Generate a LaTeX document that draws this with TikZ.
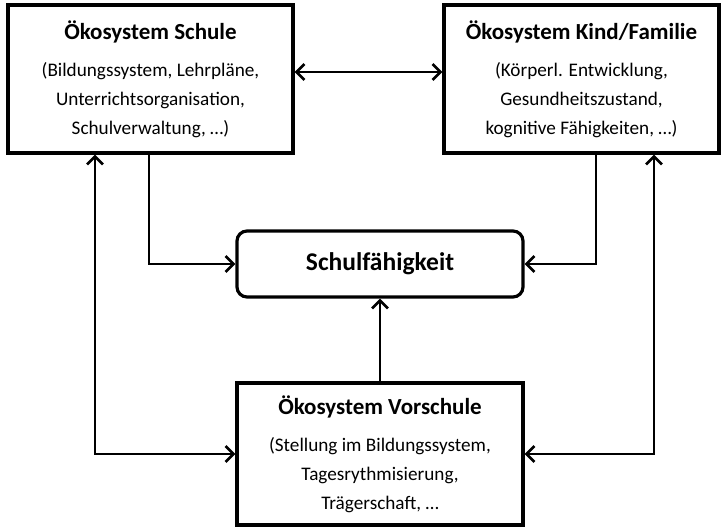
\documentclass[tikz,border=0pt]{standalone}
\usepackage{fontspec}
\setmainfont{Carlito}
\usetikzlibrary{arrows.meta}
\newcommand{\ttl}[1]{{\fontsize{23}{29}\selectfont\bfseries #1}}
\begin{document}
\begin{tikzpicture}[x=1pt,y=-1pt,
  box/.style={draw,line width=3.2pt,rectangle,align=center,inner sep=0pt,
    font=\fontsize{19.2}{29}\selectfont},
  conn/.style={line width=2.6pt,-{Straight Barb[length=8pt,width=16pt,line width=2.6pt]}},
  dconn/.style={line width=2.6pt,{Straight Barb[length=8pt,width=16pt,line width=2.6pt]}-{Straight Barb[length=8pt,width=16pt,line width=2.6pt]}}]
\useasboundingbox (0,0) rectangle (721,529);
\node[box,minimum width=285pt,minimum height=148pt] (schule) at (150.5,79)
  {\ttl{Ökosystem Schule}\\[8pt](Bildungssystem, Lehrpläne,\\Unterrichtsorganisation,\\Schulverwaltung, …)};
\node[box,minimum width=275pt,minimum height=148pt] (kind) at (581.5,79)
  {\ttl{Ökosystem Kind/Familie}\\[8pt](Körperl. Entwicklung,\\Gesundheitszustand,\\kognitive Fähigkeiten, …)};
\node[box,rounded corners=10pt,minimum width=286pt,minimum height=66pt,
  font=\fontsize{25.5}{29}\selectfont\bfseries] (sf) at (380,264)
  {Schulfähigkeit};
\node[box,minimum width=286pt,minimum height=142pt] (vor) at (380,454)
  {\ttl{Ökosystem Vorschule}\\[8pt](Stellung im Bildungssystem,\\Tagesrythmisierung,\\Trägerschaft, …};
\coordinate (sl) at (149,153);
\coordinate (kl) at (596,153);
\coordinate (su) at (95,153);
\coordinate (ku) at (654,153);
\draw[dconn] (schule.east |- 0,72) -- (kind.west |- 0,72);
\draw[conn] (schule.south -| sl) |- (sf.west);
\draw[conn] (kind.south -| kl) |- (sf.east);
\draw[conn] (vor.north) -- (sf.south);
\draw[dconn] (schule.south -| su) |- (vor.west);
\draw[dconn] (kind.south -| ku) |- (vor.east);
\end{tikzpicture}
\end{document}
